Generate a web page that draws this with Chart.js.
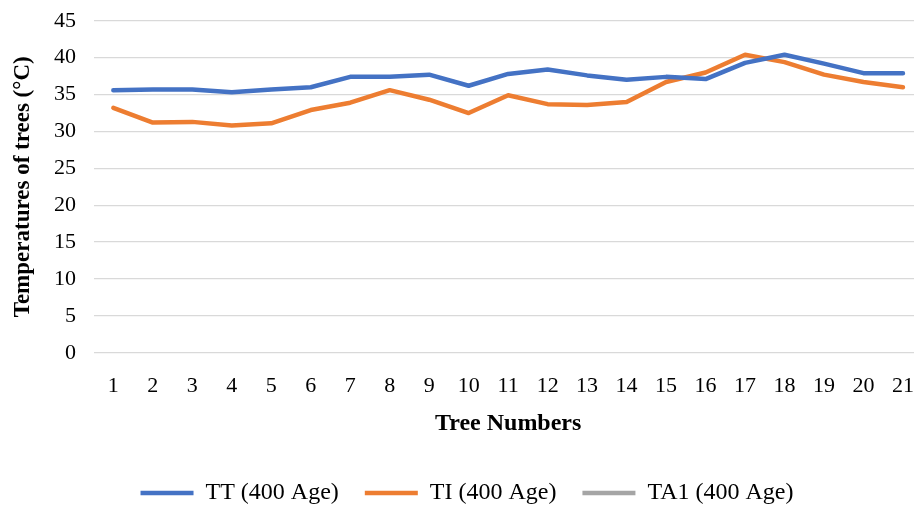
<!DOCTYPE html>
<html>
<head>
<meta charset="utf-8">
<script src="https://cdn.jsdelivr.net/npm/chart.js@4"></script>
<style>
html,body{margin:0;padding:0;background:#fff;overflow:hidden;}
#wrap{width:926px;height:507px;}
</style>
</head>
<body>
<div id="wrap"><canvas id="c" width="926" height="507"></canvas></div>
<script>
const categories = ["1","2","3","4","5","6","7","8","9","10","11","12","13","14","15","16","17","18","19","20","21"];
const ttValues = [35.6,35.7,35.7,35.3,35.7,36.0,37.4,37.4,37.7,36.2,37.8,38.4,37.6,37.0,37.4,37.1,39.3,40.4,39.2,37.9,37.9];
const tiValues = [33.2,31.2,31.3,30.8,31.1,32.9,33.9,35.6,34.3,32.5,34.9,33.7,33.6,34.0,36.7,38.0,40.4,39.4,37.7,36.7,36.0];
const ta1Values = [null,null,null,null,null,null,null,null,null,null,null,null,null,null,null,null,null,null,null,null,null];
const seriesNames = ["TT (400 Age)","TI (400 Age)","TA1 (400 Age)"];
const yTicks = [0,5,10,15,20,25,30,35,40,45];

const serif = "'Liberation Serif', 'DejaVu Serif', serif";
function ds(label, data, color){
  return {label, data, borderColor:color, backgroundColor:color, borderWidth:4.5,
    pointRadius:0, pointHoverRadius:0, pointStyle:'line', tension:0,
    borderCapStyle:'round', borderJoinStyle:'round', spanGaps:false};
}
new Chart(document.getElementById('c'), {
  type:'line',
  data:{labels:categories, datasets:[
    ds(seriesNames[0], ttValues, '#4472C4'),
    ds(seriesNames[1], tiValues, '#ED7D31'),
    ds(seriesNames[2], ta1Values, '#A5A5A5')
  ]},
  options:{
    responsive:false, animation:false,
    layout:{padding:{left:9, right:1, top:-3, bottom:-8}},
    plugins:{
      tooltip:{enabled:false},
      legend:{position:'bottom', labels:{usePointStyle:true, pointStyleWidth:53, boxHeight:4,
        color:'#000', font:{family:serif, size:24}, padding:26}},
    },
    scales:{
      x:{offset:true, grid:{display:false}, border:{display:false},
        ticks:{color:'#000', font:{family:serif, size:22}, padding:12, maxRotation:0, autoSkip:false},
        title:{display:true, text:'Tree Numbers', color:'#000', font:{family:serif, size:24, weight:'bold'}, padding:{top:-2, bottom:17}}},
      y:{min:0, max:45, afterBuildTicks:(a)=>{a.ticks = yTicks.map(v=>({value:v}));},
        grid:{color:'#d9d9d9', lineWidth:1.3, drawTicks:false}, border:{display:false},
        ticks:{color:'#000', font:{family:serif, size:22, lineHeight:0.3}, padding:17.5},
        title:{display:true, text:'Temperatures of trees (°C)', color:'#000', font:{family:serif, size:23, weight:'bold'}, padding:{top:0,bottom:0}}}
    }
  }
});
</script>
</body>
</html>
